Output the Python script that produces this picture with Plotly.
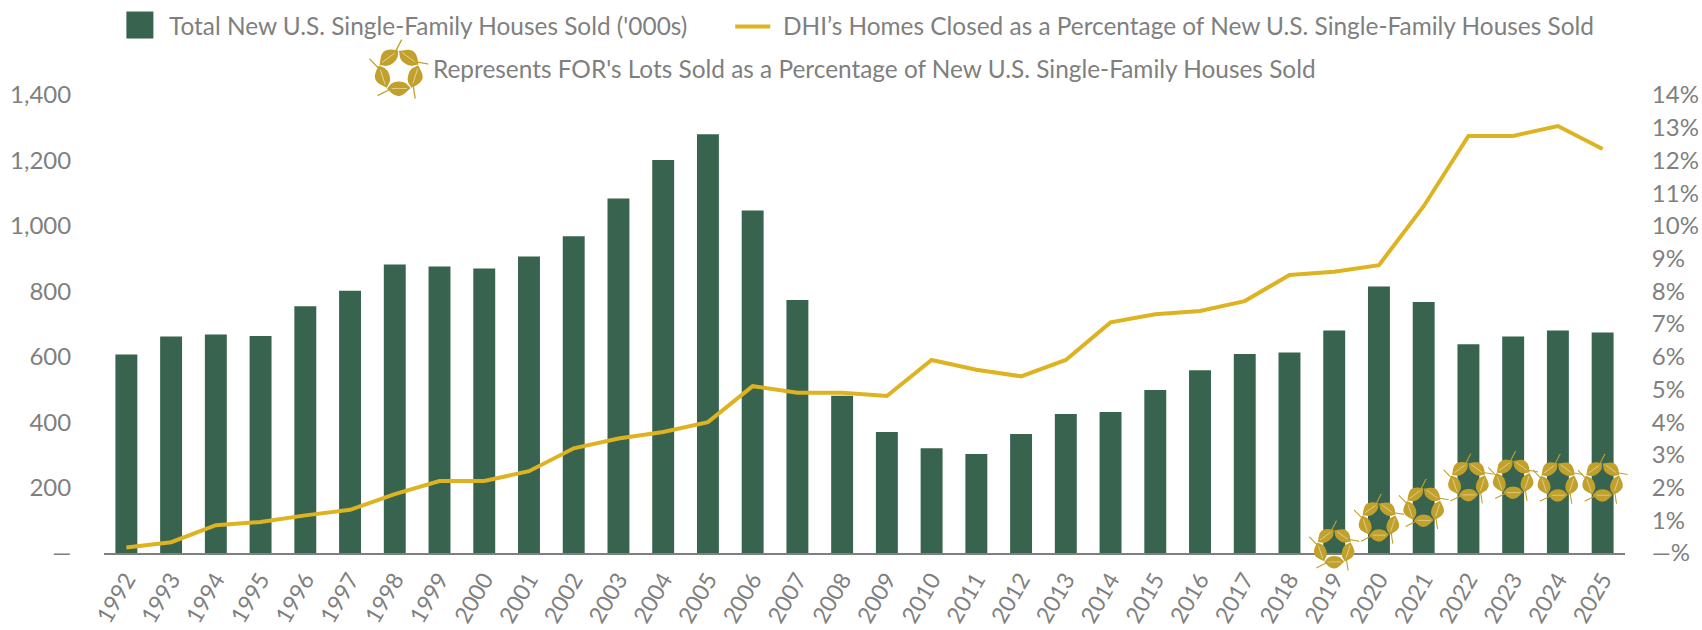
import base64
import plotly.graph_objects as go

years = [str(y) for y in range(1992, 2026)]
houses_sold = [607, 662, 668, 663, 754, 802, 882, 876, 870, 906, 968, 1084, 1201, 1280, 1047, 773, 481, 370,
               320, 303, 364, 425, 431, 498, 559, 608, 613, 680, 815, 767, 638, 662, 680, 674]
dhi_pct = [0.17, 0.33, 0.85, 0.95, 1.15, 1.32, 1.8, 2.2, 2.2, 2.5, 3.2, 3.5, 3.7, 4.0, 5.1, 4.9, 4.9, 4.8,
           5.9, 5.6, 5.4, 5.9, 7.05, 7.3, 7.4, 7.7, 8.5, 8.6, 8.8, 10.6, 12.75, 12.75, 13.05, 12.35]
for_years = ["2019", "2020", "2021", "2022", "2023", "2024", "2025"]
for_pct = [0.23, 1.05, 1.5, 2.28, 2.35, 2.27, 2.27]
left_ticks = [0, 200, 400, 600, 800, 1000, 1200, 1400]
left_labels = ["—", "200", "400", "600", "800", "1,000", "1,200", "1,400"]
right_ticks = list(range(0, 15))
right_labels = ["—%"] + [f"{i}%" for i in range(1, 15)]
legend_bar = "Total New U.S. Single-Family Houses Sold ('000s)"
legend_line = "DHI’s Homes Closed as a Percentage of New U.S. Single-Family Houses Sold"
legend_leaf = "Represents FOR's Lots Sold as a Percentage of New U.S. Single-Family Houses Sold"

GREEN, GOLD, LEAF, GREY = "#38634F", "#DDB321", "#C1A02C", "#7F7F7F"
FONT = "Lato"
W, H, L, R, T, B = 1702, 630, 103.6, 77, 94.5, 77.3
Y2_MAX = 14

leaf = ('<path d="M30 83 L37 75 Q42 71 50 71 Q58 71 62 74 L70 82 L62 90 Q56 96 50 96 Q44 96 38 91 Z" fill="%s"/>'
        '<path d="M36 83 L64 83" stroke="%s" stroke-width="1.4" fill="none"/>'
        '<path d="M14 95 L38 83" stroke="%s" stroke-width="2.2" fill="none"/>') % (LEAF, "#E6D9A8", LEAF)
svg = '<svg xmlns="http://www.w3.org/2000/svg" viewBox="0 0 100 100" width="200" height="200">' + "".join(
    f'<g transform="rotate({-72*k} 50 54)">{leaf}</g>' for k in range(5)) + "</svg>"
leaf_uri = "data:image/svg+xml;base64," + base64.b64encode(svg.encode()).decode()

PW, PH = W - L - R, H - T - B
px = lambda x: (x - L) / PW
py = lambda y: 1 - (y - T) / PH

fig = go.Figure()
fig.add_bar(x=years, y=houses_sold, name=legend_bar, marker=dict(color=GREEN, line=dict(width=0)), width=0.49)
fig.add_scatter(x=years, y=dhi_pct, name=legend_line, yaxis="y2", mode="lines", line=dict(color=GOLD, width=4))
fig.add_scatter(x=for_years, y=for_pct, name=legend_leaf, yaxis="y2", mode="markers", marker=dict(size=30, opacity=0))

# axis-referenced images are clipped to the plot area, so the leaf marks are placed through the axis scale in paper units
images = [dict(source=leaf_uri, xref="paper", yref="paper", x=(years.index(yr) + 0.5) / len(years), y=v / Y2_MAX,
               sizex=50 / PW, sizey=50 / PH, xanchor="center", yanchor="middle", sizing="contain", layer="above")
          for yr, v in zip(for_years, for_pct)]
images.append(dict(source=leaf_uri, xref="paper", yref="paper", x=px(398.5), y=py(68.5), sizex=59 / PW,
                   sizey=59 / PH, xanchor="center", yanchor="middle", sizing="contain", layer="above"))

def label(text, x, y):
    return dict(text=text, xref="paper", yref="paper", x=px(x), y=py(y), xanchor="left", yanchor="middle",
                showarrow=False, font=dict(family=FONT, size=24.4, color=GREY))

fig.update_layout(
    width=W, height=H, autosize=False, margin=dict(l=L, r=R, t=T, b=B, pad=0, autoexpand=False),
    paper_bgcolor="white", plot_bgcolor="white", showlegend=False, bargap=0.5,
    font=dict(family=FONT, color=GREY, size=23),
    xaxis=dict(type="category", categoryorder="array", categoryarray=years, range=[-0.5, 33.5], tickangle=-60,
               showgrid=False, zeroline=False, showline=True, linecolor=GREY, linewidth=2, ticks="outside",
               ticklen=2, tickcolor="rgba(0,0,0,0)", automargin=False, tickfont=dict(size=23, color=GREY, family=FONT)),
    yaxis=dict(range=[0, 1400], tickvals=left_ticks, ticktext=left_labels, showgrid=False, zeroline=False,
               showline=False, ticks="outside", ticklen=27, tickcolor="rgba(0,0,0,0)", automargin=False,
               tickfont=dict(size=24, color=GREY, family=FONT)),
    yaxis2=dict(range=[0, Y2_MAX], overlaying="y", side="right", tickvals=right_ticks, ticktext=right_labels,
                showgrid=False, zeroline=False, showline=False, ticks="outside", ticklen=21, automargin=False,
                tickcolor="rgba(0,0,0,0)", tickfont=dict(size=24, color=GREY, family=FONT)),
    images=images,
    shapes=[
        dict(type="rect", xref="paper", yref="paper", x0=px(126), x1=px(153), y0=py(38), y1=py(11),
             fillcolor=GREEN, line=dict(width=0)),
        dict(type="line", xref="paper", yref="paper", x0=px(735), x1=px(770), y0=py(26), y1=py(26),
             line=dict(color=GOLD, width=4)),
    ],
    annotations=[label(legend_bar, 167, 25), label(legend_line, 781, 25), label(legend_leaf, 431, 68)],
)
fig.write_html("out.html", post_script="document.body.style.margin='0';", config=dict(displayModeBar=False))
